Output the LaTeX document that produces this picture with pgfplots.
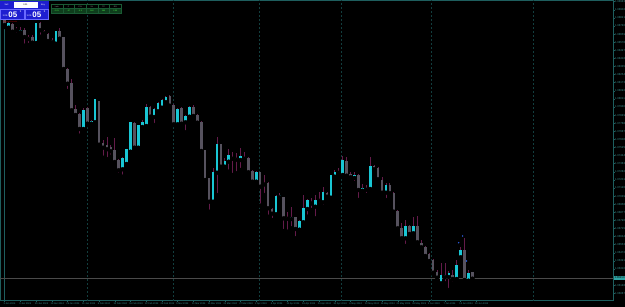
\documentclass[border=0pt]{standalone}
\usepackage{fontspec}
\setmainfont{Liberation Sans}
\usepackage{pgfplots}
\usepackage{pgfplotstable}
\pgfplotsset{compat=1.18}
\definecolor{bull}{HTML}{19C6D4}
\definecolor{bear}{HTML}{56525E}
\definecolor{wickc}{HTML}{641B4A}
\definecolor{axc}{HTML}{1E5E5E}
\definecolor{gridc}{HTML}{123E3E}
\definecolor{labc}{HTML}{3A8C8C}
\definecolor{bidc}{HTML}{4A4A4A}
\definecolor{panelblue}{HTML}{1E1ED0}
\definecolor{panelline}{HTML}{6A6AFF}
\definecolor{cellg}{HTML}{0E3E1C}
\definecolor{cellb}{HTML}{1A5A34}
\definecolor{arrowc}{HTML}{2A5AD8}

\pgfplotstableread{
i bl bh
1 1.08723 1.08757
4 1.08677 1.08693
8 1.08570 1.08757
13 1.08563 1.08677
20 1.07710 1.07893
22 1.07763 1.07777
23 1.07777 1.07997
30 1.07307 1.07407
31 1.07360 1.07500
32 1.07483 1.07770
34 1.07523 1.07737
35 1.07730 1.07773
36 1.07740 1.07920
38 1.07830 1.07900
39 1.07887 1.07957
40 1.07923 1.07990
41 1.07977 1.08017
44 1.07757 1.07900
46 1.07777 1.07827
47 1.07833 1.07923
53 1.06983 1.07267
54 1.07273 1.07550
56 1.07333 1.07383
57 1.07383 1.07437
60 1.07400 1.07430
64 1.07183 1.07273
69 1.06857 1.07030
70 1.07027 1.07043
73 1.06810 1.06823
75 1.06703 1.06783
76 1.06777 1.06910
77 1.06910 1.06990
79 1.06933 1.06990
81 1.06977 1.07067
83 1.07023 1.07240
84 1.07233 1.07273
86 1.07250 1.07390
89 1.07220 1.07243
91 1.07093 1.07113
93 1.07110 1.07333
97 1.07073 1.07143
102 1.06617 1.06727
104 1.06667 1.06733
111 1.06167 1.06240
112 1.06228 1.06238
113 1.06230 1.06263
115 1.06210 1.06340
116 1.06427 1.06493
118 1.06193 1.06267
}\bulltab

\pgfplotstableread{
i bl bh
0 1.08750 1.08790
2 1.08683 1.08750
3 1.08695 1.08705
5 1.08630 1.08690
6 1.08610 1.08620
7 1.08573 1.08623
9 1.08697 1.08757
10 1.08667 1.08680
11 1.08590 1.08650
12 1.08577 1.08593
14 1.08613 1.08677
15 1.08310 1.08617
16 1.08163 1.08300
17 1.07897 1.08160
18 1.07850 1.07900
19 1.07710 1.07850
21 1.07763 1.07907
24 1.07553 1.07983
25 1.07523 1.07557
26 1.07507 1.07540
27 1.07487 1.07517
28 1.07380 1.07490
29 1.07297 1.07393
33 1.07523 1.07760
37 1.07833 1.07917
42 1.07943 1.08027
43 1.07757 1.07943
45 1.07763 1.07910
48 1.07840 1.07923
49 1.07773 1.07840
50 1.07490 1.07773
51 1.07200 1.07490
52 1.06983 1.07207
55 1.07333 1.07550
58 1.07412 1.07422
59 1.07402 1.07412
61 1.07412 1.07422
62 1.07277 1.07410
63 1.07183 1.07283
65 1.07133 1.07267
66 1.07155 1.07165
67 1.06917 1.07163
68 1.06863 1.06900
71 1.06817 1.07017
72 1.06812 1.06822
74 1.06710 1.06817
78 1.06965 1.06975
80 1.06992 1.07002
82 1.07033 1.07057
85 1.07272 1.07282
87 1.07243 1.07380
88 1.07227 1.07250
90 1.07100 1.07240
92 1.07102 1.07112
94 1.07307 1.07333
95 1.07207 1.07307
96 1.07073 1.07190
98 1.07067 1.07140
99 1.06883 1.07067
100 1.06717 1.06883
101 1.06617 1.06710
103 1.06660 1.06727
105 1.06577 1.06727
106 1.06527 1.06560
107 1.06440 1.06527
108 1.06390 1.06450
109 1.06273 1.06390
110 1.06223 1.06273
114 1.06210 1.06240
117 1.06200 1.06493
119 1.06213 1.06270
}\beartab

\pgfplotstableread{
i lo hi
0 1.08730 1.08810
1 1.08700 1.08780
2 1.08675 1.08770
3 1.08650 1.08733
4 1.08650 1.08733
5 1.08543 1.08720
6 1.08550 1.08650
7 1.08567 1.08650
8 1.08533 1.08757
9 1.08633 1.08783
10 1.08650 1.08700
11 1.08570 1.08670
12 1.08543 1.08620
13 1.08560 1.08690
14 1.08605 1.08723
15 1.08300 1.08630
16 1.08090 1.08320
17 1.07890 1.08210
18 1.07833 1.07950
19 1.07643 1.07870
20 1.07690 1.07920
21 1.07750 1.07930
22 1.07750 1.07800
23 1.07770 1.08005
24 1.07545 1.07990
25 1.07423 1.07600
26 1.07410 1.07633
27 1.07433 1.07550
28 1.07367 1.07623
29 1.07250 1.07410
30 1.07233 1.07430
31 1.07350 1.07510
32 1.07475 1.07780
33 1.07510 1.07780
34 1.07515 1.07750
35 1.07700 1.07800
36 1.07700 1.07957
37 1.07820 1.07940
38 1.07750 1.07920
39 1.07870 1.07980
40 1.07890 1.08010
41 1.07960 1.08040
42 1.07930 1.08050
43 1.07750 1.07960
44 1.07745 1.07920
45 1.07755 1.07925
46 1.07677 1.07850
47 1.07820 1.07940
48 1.07830 1.07950
49 1.07740 1.07860
50 1.07480 1.07785
51 1.07160 1.07500
52 1.06883 1.07220
53 1.06970 1.07317
54 1.07050 1.07633
55 1.07320 1.07560
56 1.07310 1.07420
57 1.07283 1.07507
58 1.07250 1.07483
59 1.07267 1.07467
60 1.07300 1.07517
61 1.07370 1.07480
62 1.07270 1.07430
63 1.07170 1.07300
64 1.07165 1.07290
65 1.06943 1.07280
66 1.07050 1.07250
67 1.06833 1.07180
68 1.06800 1.06920
69 1.06840 1.07050
70 1.07010 1.07070
71 1.06690 1.07030
72 1.06683 1.06883
73 1.06717 1.06933
74 1.06617 1.06830
75 1.06690 1.06800
76 1.06770 1.07050
77 1.06833 1.07010
78 1.06900 1.07017
79 1.06817 1.07050
80 1.06950 1.07083
81 1.06933 1.07133
82 1.07010 1.07080
83 1.07010 1.07250
84 1.07220 1.07300
85 1.07250 1.07320
86 1.07240 1.07440
87 1.07217 1.07433
88 1.07200 1.07280
89 1.07170 1.07280
90 1.07000 1.07260
91 1.07070 1.07160
92 1.07050 1.07150
93 1.07100 1.07433
94 1.07290 1.07350
95 1.07190 1.07330
96 1.07060 1.07230
97 1.07000 1.07170
98 1.07050 1.07170
99 1.06870 1.07080
100 1.06700 1.06900
101 1.06607 1.06767
102 1.06540 1.06800
103 1.06640 1.06750
104 1.06650 1.06833
105 1.06560 1.06840
106 1.06500 1.06600
107 1.06430 1.06540
108 1.06370 1.06470
109 1.06260 1.06410
110 1.06183 1.06300
111 1.06133 1.06367
112 1.06167 1.06367
113 1.06100 1.06290
114 1.06167 1.06300
115 1.06200 1.06400
116 1.06417 1.06533
117 1.06183 1.06620
118 1.06180 1.06300
119 1.06205 1.06280
}\wicktab

\begin{document}
\begin{tikzpicture}
\useasboundingbox (0,0) rectangle (625bp,307bp);
\fill[black] (0,0) rectangle (625bp,307bp);
\begin{axis}[
  at={(0bp,6.3bp)}, anchor=south west,
  scale only axis, width=613bp, height=300.2bp,
  xmin=-1.206, xmax=154.77, ymin=1.05993, ymax=1.08995,
  axis line style={draw=axc, line width=0.8bp},
  tick align=outside, major tick length=1.5bp,
  tick style={draw=axc, line width=0.5bp},
  xtick pos=bottom, ytick pos=right,
  xtick={0,4,...,120},
  xticklabels={3 Jan 2024,9 Jan 2024,15 Jan 2024,19 Jan 2024,25 Jan 2024,31 Jan 2024,6 Feb 2024,12 Feb 2024,16 Feb 2024,22 Feb 2024,28 Feb 2024,5 Mar 2024,11 Mar 2024,15 Mar 2024,21 Mar 2024,27 Mar 2024,2 Apr 2024,8 Apr 2024,12 Apr 2024,18 Apr 2024,24 Apr 2024,30 Apr 2024,6 May 2024,10 May 2024,16 May 2024,22 May 2024,28 May 2024,3 Jun 2024,7 Jun 2024,13 Jun 2024,19 Jun 2024},
  xticklabel style={font=\fontsize{2.4}{2.4}\selectfont, text=labc, anchor=north west, inner sep=0pt, xshift=-1.4bp, yshift=-0.8bp},
  ytick={1.08983,1.08902,1.08821,1.08740,1.08659,1.08578,1.08497,1.08416,1.08335,1.08254,1.08173,1.08092,1.08011,1.07930,1.07849,1.07768,1.07687,1.07606,1.07525,1.07444,1.07363,1.07282,1.07201,1.07120,1.07039,1.06958,1.06877,1.06796,1.06715,1.06634,1.06553,1.06472,1.06391,1.06310,1.06229,1.06148,1.06067},
  yticklabel style={font=\fontsize{2.8}{2.8}\selectfont, text=labc, anchor=west, inner sep=0pt, xshift=0.3bp,
    /pgf/number format/.cd, fixed, fixed zerofill, precision=5, assume math mode=true},
  scaled y ticks=false,
  extra x ticks={21.0,42.9,64.8,85.6,108.5,134.4},
  extra x tick labels={},
  extra x tick style={grid=major, major tick length=0pt, major grid style={draw=gridc, dash pattern=on 2bp off 2bp, line width=0.8bp}},
]
% period separator (solid)
\addplot[draw=axc, line width=0.8bp, forget plot] coordinates {(-0.1,1.05993) (-0.1,1.08995)};
% bid line
\addplot[draw=bidc, line width=0.9bp, forget plot] coordinates {(-1.206,1.06215) (154.77,1.06215)};
% wicks
\addplot[only marks, mark=none, forget plot,
  error bars/.cd, y dir=plus, y explicit, error mark=none,
  error bar style={line width=0.8bp, draw=wickc}]
  table[x=i, y=lo, y error expr=\thisrow{hi}-\thisrow{lo}] {\wicktab};
% bearish bodies
\addplot[only marks, mark=none, forget plot,
  error bars/.cd, y dir=plus, y explicit, error mark=none,
  error bar style={line width=2.6bp, draw=bear}]
  table[x=i, y=bl, y error expr=\thisrow{bh}-\thisrow{bl}+0.00008] {\beartab};
% bullish bodies
\addplot[only marks, mark=none, forget plot,
  error bars/.cd, y dir=plus, y explicit, error mark=none,
  error bar style={line width=2.6bp, draw=bull}]
  table[x=i, y=bl, y error expr=\thisrow{bh}-\thisrow{bl}+0.00008] {\bulltab};
% trade arrows
\addplot[only marks, mark=*, mark size=0.5bp, color=arrowc, forget plot] coordinates {(116.5,1.06640) (115.5,1.06573) (117.5,1.06390)};
\end{axis}

\begin{scope}[x=1bp, y=-1bp, shift={(0,307bp)}]
  % current price label
  \fill[labc!80!cyan] (613.6,275.6) rectangle (625,280);
  \node[font=\fontsize{2.8}{2.8}\selectfont, text=black, inner sep=0pt, anchor=west] at (614.3,277.8) {1.06213};
  % trade panel
  \fill[panelblue] (0,1) rectangle (48.5,19.5);
  \draw[panelline, line width=0.5bp] (0.6,9) rectangle (23.8,19);
  \draw[panelline, line width=0.5bp] (24.8,9) rectangle (48,19);
  \fill[white] (13.5,2.4) rectangle (37.5,7.6);
  \node[font=\fontsize{2.2}{2.2}\selectfont, text=white, inner sep=0pt] at (6.5,4.8) {Sell};
  \node[font=\fontsize{2.2}{2.2}\selectfont, text=white, inner sep=0pt] at (43,4.8) {Buy};
  \node[font=\fontsize{2.2}{2.2}\selectfont, text=black, inner sep=0pt] at (25.5,5) {0.01};
  \node[font=\fontsize{2.4}{2.4}\selectfont, text=white, inner sep=0pt, anchor=base west] at (2.5,16.5) {1.06};
  \node[font=\bfseries\fontsize{8}{8}\selectfont, text=white, inner sep=0pt, anchor=base west] at (8.3,17.8) {05};
  \node[font=\fontsize{2.6}{2.6}\selectfont, text=white, inner sep=0pt, anchor=base west] at (19.6,13) {5};
  \node[font=\fontsize{2.4}{2.4}\selectfont, text=white, inner sep=0pt, anchor=base west] at (26.5,16.5) {1.06};
  \node[font=\bfseries\fontsize{8}{8}\selectfont, text=white, inner sep=0pt, anchor=base west] at (32.3,17.8) {05};
  \node[font=\fontsize{2.6}{2.6}\selectfont, text=white, inner sep=0pt, anchor=base west] at (43.6,13) {5};
  % small info table
  \foreach \k/\a/\b in {0/Lots/0.01,1/P/-37,2/P\%/-0.3,3/SL/180,4/TP/360,5/RR/2.00}{
    \fill[black] (51+11.7*\k,4) rectangle (62.7+11.7*\k,8.7);
    \fill[cellg] (51+11.7*\k,8.7) rectangle (62.7+11.7*\k,13.5);
    \draw[cellb, line width=0.4bp] (51+11.7*\k,4) rectangle (62.7+11.7*\k,13.5);
    \draw[cellb, line width=0.4bp] (51+11.7*\k,8.7) -- (62.7+11.7*\k,8.7);
    \node[font=\fontsize{2}{2}\selectfont, text=gray!80, inner sep=0pt] at (56.85+11.7*\k,6.4) {\a};
    \node[font=\fontsize{2}{2}\selectfont, text=green!70!white, inner sep=0pt] at (56.85+11.7*\k,11.1) {\b};
  }
  \node[font=\fontsize{2}{2}\selectfont, text=red!75!black, inner sep=0pt, anchor=west] at (3.5,22) {Opened Levels};
\end{scope}
\end{tikzpicture}
\end{document}
